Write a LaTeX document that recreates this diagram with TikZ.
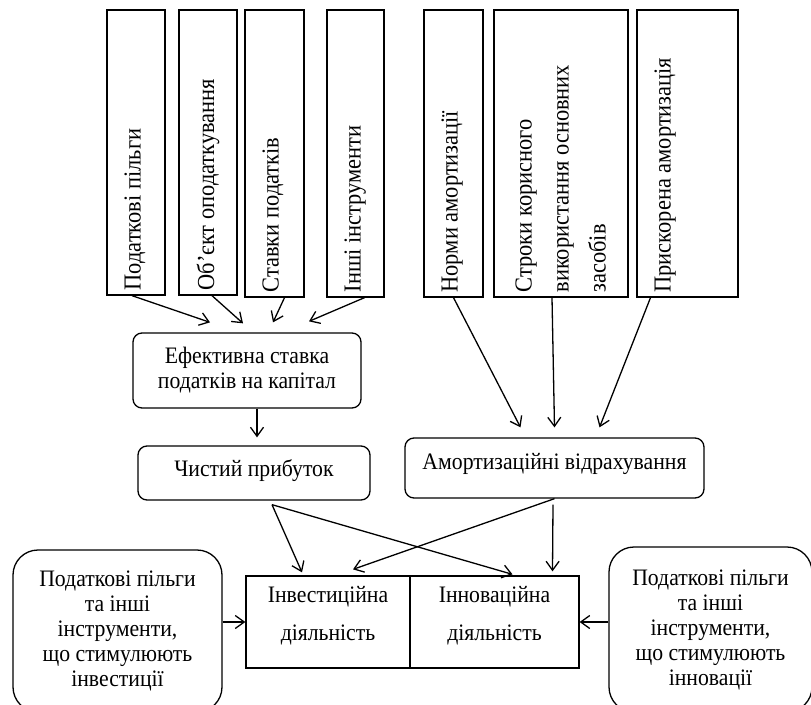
\documentclass[tikz,border=0pt]{standalone}
\usepackage{fontspec}
\setmainfont{Liberation Serif}[FakeStretch=0.92]
\usetikzlibrary{arrows.meta}
\tikzset{
    box/.style={draw, line width=1.3pt, inner sep=0pt, align=center},
    rbox/.style={box, rounded corners=9pt},
    sidebox/.style={box, rounded corners=25pt},
    txt/.style={inner sep=0pt, align=center},
    vlabel/.style={rotate=90, anchor=north west, align=left, inner sep=0pt, font=\fontsize{24.4}{27}\selectfont},
    arr/.style={line width=1.3pt, -{Straight Barb[length=9pt,width=13pt]}}
}
\begin{document}
\begin{tikzpicture}[x=1pt, y=-1pt, font=\fontsize{23.6}{25}\selectfont]
        \useasboundingbox (0,0) rectangle (811,704);
        \clip (0,0) rectangle (811,704);
        %% Tax instruments
        \node[box, minimum width=58pt, minimum height=285pt] (pilg) at (136,152.5) {};
        \node[vlabel] (pilgt) at ([xshift=18pt,yshift=5pt]pilg.south west) {Податкові пільги};
        \node[box, minimum width=58pt, minimum height=285pt] (obj) at (208,152.5) {};
        \node[vlabel] (objt) at ([xshift=18pt,yshift=5pt]obj.south west) {Об’єкт оподаткування};
        \node[box, minimum width=59pt, minimum height=287pt] (stav) at (274.5,153.5) {};
        \node[vlabel] (stavt) at ([xshift=18pt,yshift=5pt]stav.south west) {Ставки податків};
        \node[box, minimum width=57pt, minimum height=287pt] (inshi) at (355.5,153.5) {};
        \node[vlabel] (inshit) at ([xshift=18pt,yshift=5pt]inshi.south west) {Інші інструменти};
        %% Depreciation instruments
        \node[box, minimum width=59pt, minimum height=287pt] (norm) at (453.5,153.5) {};
        \node[vlabel] (normt) at ([xshift=18pt,yshift=5pt]norm.south west) {Норми амортизації};
        \node[box, minimum width=134pt, minimum height=287pt] (strok) at (561,153.5) {};
        \node[vlabel, font=\fontsize{24.4}{37}\selectfont] (strokt) at ([xshift=22pt,yshift=5pt]strok.south west)
            {Строки корисного\\використання основних\\засобів};
        \node[box, minimum width=101pt, minimum height=287pt] (prysk) at (687.5,153.5) {};
        \node[vlabel] (pryskt) at ([xshift=18pt,yshift=5pt]prysk.south west) {Прискорена амортизація};
        %% Middle
        \node[rbox, minimum width=228pt, minimum height=75pt] (ef) at (247,370.5) {Ефективна ставка\\податків на капітал};
        \node[rbox, minimum width=232pt, minimum height=54pt] (prib) at (254,473) {};
        \node[txt] (pribt) at ([yshift=2pt]prib.center) {Чистий прибуток};
        \node[rbox, minimum width=299pt, minimum height=60pt] (amort) at (554.5,468) {};
        \node[txt] (amortt) at ([yshift=4pt]amort.center) {Амортизаційні відрахування};
        %% Activities
        \node[box, minimum width=164pt, minimum height=92pt] (inv) at (328,622) {};
        \node[txt, font=\fontsize{23.6}{38}\selectfont] (invt) at ([yshift=6pt]inv.center) {Інвестиційна\\діяльність};
        \node[box, minimum width=169pt, minimum height=92pt] (inn) at (494.5,622) {};
        \node[txt, font=\fontsize{23.6}{38}\selectfont] (innt) at ([yshift=6pt]inn.center) {Інноваційна\\діяльність};
        \node[sidebox, minimum width=209pt, minimum height=162pt] (lstym) at (117.5,631)
            {Податкові пільги\\та інші\\інструменти,\\що стимулюють\\інвестиції};
        \node[sidebox, minimum width=203pt, minimum height=165pt] (rstym) at (710.5,629.5)
            {Податкові пільги\\та інші\\інструменти,\\що стимулюють\\інновації};
        %% Arrows
        \draw[arr] ([xshift=-4pt]pilg.south) -- ([xshift=-37pt,yshift=10pt]ef.north);
        \draw[arr] ([xshift=4pt]obj.south) -- ([xshift=-4pt,yshift=9pt]ef.north);
        \draw[arr] ([xshift=10pt]stav.south) -- ([xshift=26pt,yshift=10pt]ef.north);
        \draw[arr] ([xshift=9pt]inshi.south) -- ([xshift=62pt,yshift=11pt]ef.north);
        \draw[arr] (norm.south) -- ([xshift=-34pt,yshift=10pt]amort.north);
        \draw[arr] ([xshift=-9pt]strok.south) -- ([yshift=10pt]amort.north);
        \draw[arr] ([xshift=-37pt]prysk.south) -- ([xshift=45pt,yshift=10pt]amort.north);
        \draw[arr] ([xshift=10pt]ef.south) -- ([xshift=3pt,yshift=8pt]prib.north);
        \draw[arr] ([xshift=18pt,yshift=-4pt]prib.south) -- ([xshift=-26pt,yshift=3pt]inv.north);
        \draw[arr] ([xshift=18pt,yshift=-4pt]prib.south) -- ([xshift=18pt,yshift=1pt]inn.north);
        \draw[arr] (amort.south) -- ([xshift=25pt,yshift=6pt]inv.north);
        \draw[arr] ([xshift=-1.5pt,yshift=-6pt]amort.south) -- ([xshift=58pt,yshift=4pt]inn.north);
        \draw[arr] (inv.west -| lstym.east) -- (inv.west);
        \draw[arr] (inn.east -| rstym.west) -- (inn.east);
    \end{tikzpicture}
\end{document}
